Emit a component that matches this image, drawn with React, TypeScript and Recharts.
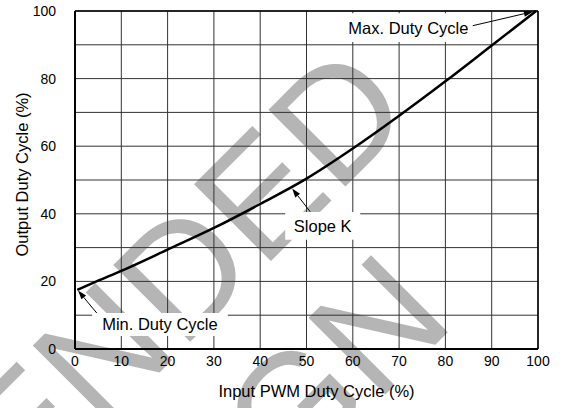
import React from "react";
import {
    LineChart,
    Line,
    XAxis,
    YAxis,
    CartesianGrid,
    ReferenceArea,
    ReferenceLine,
} from "recharts";

const inputDuty = [0.5, 5, 10, 20, 30, 40, 50, 60, 70, 80, 90, 99.6];
const outputDuty = [17.5, 20.2, 23.1, 29.4, 35.8, 42.9, 50.4, 59.3, 69.0, 79.2, 89.8, 100];
const xTicks = [0, 10, 20, 30, 40, 50, 60, 70, 80, 90, 100];
const yTicks = [0, 10, 20, 30, 40, 50, 60, 70, 80, 90, 100];
const yLabelled = [0, 20, 40, 60, 80, 100];

const data = inputDuty.map((x, i) => ({ x, y: outputDuty[i] }));

const FONT = "'Liberation Sans', Arial, Helvetica, sans-serif";

// line with a small filled arrow head at the (x2, y2) end
function Arrow(props: any) {
    const { x1, y1, x2, y2 } = props;
    const dx = x2 - x1;
    const dy = y2 - y1;
    const len = Math.sqrt(dx * dx + dy * dy) || 1;
    const ux = dx / len;
    const uy = dy / len;
    const hl = 9;
    const hw = 3;
    const bx = x2 - ux * hl;
    const by = y2 - uy * hl;
    const pts = `${x2},${y2} ${bx - uy * hw},${by + ux * hw} ${bx + uy * hw},${by - ux * hw}`;
    return (
        <g>
            <line x1={x1} y1={y1} x2={bx} y2={by} stroke="#000" strokeWidth={1} />
            <polygon points={pts} fill="#000" />
        </g>
    );
}

function Watermark() {
    const style = { fontFamily: FONT, fontSize: 158, fill: "#b5b5b5" };
    return (
        <svg width={565} height={408} style={{ position: "absolute", left: 0, top: 0 }}>
            <text x={417} y={115} textAnchor="end" transform="rotate(-45 417 115)" style={style}>
                NOT RECOMMENDED
            </text>
            <text x={457} y={323} textAnchor="end" transform="rotate(-45 457 323)" style={style}>
                FOR NEW DESIGN
            </text>
        </svg>
    );
}

const boxLabel = (text: string) => ({
    value: text,
    position: "center" as const,
    fill: "#000",
    fontSize: 16.5,
    fontFamily: FONT,
});

export default function App() {
    return (
        <div style={{ position: "absolute", left: 0, top: 0, width: 565, height: 408, background: "#fff" }}>
            <Watermark />
            <div style={{ position: "absolute", left: 0, top: 0 }}>
                <LineChart width={565} height={408} data={data} margin={{ top: 11, right: 27, bottom: 0, left: 0 }}>
                    <CartesianGrid stroke="#333" strokeWidth={1} />
                    <XAxis
                        dataKey="x"
                        type="number"
                        domain={[0, 100]}
                        ticks={xTicks}
                        height={59}
                        tickLine={false}
                        tickSize={0}
                        tickMargin={7}
                        axisLine={{ stroke: "#000", strokeWidth: 2 }}
                        tick={{ fill: "#000", fontSize: 14, fontFamily: FONT }}
                        label={{
                            content: (p: any) => {
                                const vb = p.viewBox;
                                return (
                                    <text
                                        x={vb.x + vb.width / 2 + 10}
                                        y={vb.y + vb.height - 11}
                                        textAnchor="middle"
                                        fill="#000"
                                        fontSize={16.5}
                                        fontFamily={FONT}
                                    >
                                        Input PWM Duty Cycle (%)
                                    </text>
                                );
                            },
                        }}
                    />
                    <YAxis
                        type="number"
                        domain={[0, 100]}
                        ticks={yTicks}
                        width={75}
                        tickLine={false}
                        tickSize={0}
                        tickMargin={19}
                        interval={0}
                        tickFormatter={(v: number) => (yLabelled.includes(v) ? String(v) : "")}
                        axisLine={{ stroke: "#000", strokeWidth: 2 }}
                        tick={{ fill: "#000", fontSize: 14, fontFamily: FONT }}
                        label={{
                            content: (p: any) => {
                                const vb = p.viewBox;
                                const cx = 21.5;
                                const cy = vb.y + vb.height / 2 - 5.5;
                                return (
                                    <text
                                        x={cx}
                                        y={cy}
                                        textAnchor="middle"
                                        dominantBaseline="central"
                                        transform={`rotate(-90 ${cx} ${cy})`}
                                        fill="#000"
                                        fontSize={16.5}
                                        fontFamily={FONT}
                                    >
                                        Output Duty Cycle (%)
                                    </text>
                                );
                            },
                        }}
                    />
                    <ReferenceLine x={100} stroke="#000" strokeWidth={1.5} />
                    <ReferenceLine y={100} stroke="#000" strokeWidth={1.5} />
                    <ReferenceArea x1={58.3} x2={85.7} y1={90.8} y2={99.3} fill="#fff" fillOpacity={1} stroke="none" label={boxLabel("Max. Duty Cycle")} />
                    <ReferenceArea x1={45.4} x2={61.6} y1={32.3} y2={40.5} fill="#fff" fillOpacity={1} stroke="none" label={boxLabel("Slope K")} />
                    <ReferenceArea x1={3.7} x2={33.0} y1={3.85} y2={10.65} fill="#fff" fillOpacity={1} stroke="none" label={boxLabel("Min. Duty Cycle")} />
                    <ReferenceLine segment={[{ x: 85.9, y: 95.65 }, { x: 98.9, y: 99.8 }]} shape={(p: any) => <Arrow {...p} />} />
                    <ReferenceLine segment={[{ x: 50.8, y: 40.6 }, { x: 46.9, y: 47.5 }]} shape={(p: any) => <Arrow {...p} />} />
                    <ReferenceLine segment={[{ x: 4.7, y: 10.65 }, { x: 0.65, y: 17.3 }]} shape={(p: any) => <Arrow {...p} />} />
                    <Line
                        type="monotone"
                        dataKey="y"
                        stroke="#000"
                        strokeWidth={2.5}
                        dot={false}
                        isAnimationActive={false}
                    />
                </LineChart>
            </div>
        </div>
    );
}
